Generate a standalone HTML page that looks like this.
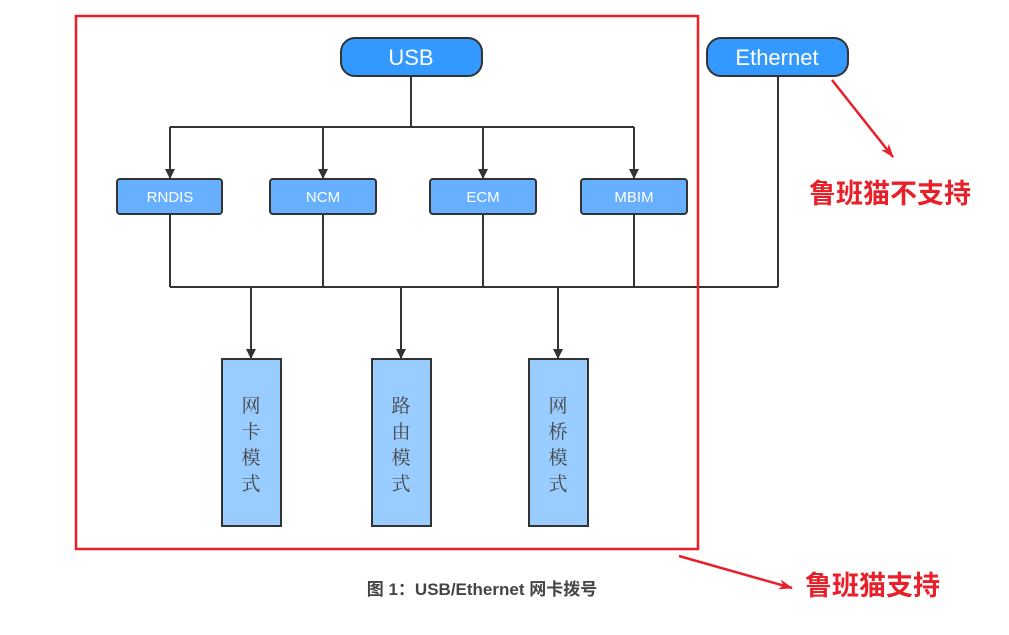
<!DOCTYPE html>
<html><head><meta charset="utf-8"><style>
html,body{margin:0;padding:0;background:#fff;width:1009px;height:635px;overflow:hidden}
svg{display:block}
</style></head><body>
<svg width="1009" height="635" viewBox="0 0 1009 635" xmlns="http://www.w3.org/2000/svg">
<defs>
<marker id="a" markerWidth="10" markerHeight="10" refX="9" refY="5" orient="auto" markerUnits="userSpaceOnUse"><path d="M0,0 L10,5 L0,10 z" fill="#333"/></marker>
<marker id="r" markerWidth="14" markerHeight="10" refX="13" refY="5" orient="auto" markerUnits="userSpaceOnUse"><path d="M0,0 L14,5 L0,10 L4,5 z" fill="#e8202a"/></marker>
</defs>
<g stroke="#333" stroke-width="2" fill="none">
<path d="M411,76 V127 M170,127 H634 M778,76 V287 M170,287 H778 M170,214 V287 M323,214 V287 M483,214 V287 M634,214 V287"/>
<path d="M170,127 V178" marker-end="url(#a)"/>
<path d="M323,127 V178" marker-end="url(#a)"/>
<path d="M483,127 V178" marker-end="url(#a)"/>
<path d="M634,127 V178" marker-end="url(#a)"/>
<path d="M251,287 V358" marker-end="url(#a)"/>
<path d="M401,287 V358" marker-end="url(#a)"/>
<path d="M558,287 V358" marker-end="url(#a)"/>
</g>
<g stroke="#333" stroke-width="2">
<rect x="341" y="38" width="141" height="38" rx="14" fill="#3399ff"/>
<rect x="707" y="38" width="141" height="38" rx="14" fill="#3399ff"/>
<rect x="117" y="179" width="105" height="35" rx="3" fill="#66b0ff"/>
<rect x="270" y="179" width="106" height="35" rx="3" fill="#66b0ff"/>
<rect x="430" y="179" width="106" height="35" rx="3" fill="#66b0ff"/>
<rect x="581" y="179" width="106" height="35" rx="3" fill="#66b0ff"/>
<rect x="222" y="359" width="59" height="167" fill="#99ccff"/>
<rect x="372" y="359" width="59" height="167" fill="#99ccff"/>
<rect x="529" y="359" width="59" height="167" fill="#99ccff"/>
</g>
<g font-family="Liberation Sans, sans-serif" fill="#fff" text-anchor="middle">
<text x="411" y="65" font-size="22">USB</text>
<text x="777" y="65" font-size="22">Ethernet</text>
<text x="170" y="202" font-size="15">RNDIS</text>
<text x="323" y="202" font-size="15">NCM</text>
<text x="483" y="202" font-size="15">ECM</text>
<text x="634" y="202" font-size="15">MBIM</text>
</g>
<g font-family="Liberation Serif, 'Noto Serif CJK SC', serif" fill="#444" font-size="19" text-anchor="middle">
<text x="251" y="412">网</text><text x="251" y="438">卡</text><text x="251" y="464">模</text><text x="251" y="490">式</text>
<text x="401" y="412">路</text><text x="401" y="438">由</text><text x="401" y="464">模</text><text x="401" y="490">式</text>
<text x="558" y="412">网</text><text x="558" y="438">桥</text><text x="558" y="464">模</text><text x="558" y="490">式</text>
</g>
<rect x="76" y="16" width="622" height="533" fill="none" stroke="#e8202a" stroke-width="2.5"/>
<path d="M832,80 L893,157" stroke="#e8202a" stroke-width="2.5" fill="none" marker-end="url(#r)"/>
<path d="M679,556 L792,588" stroke="#e8202a" stroke-width="2.5" fill="none" marker-end="url(#r)"/>
<g font-family="Liberation Sans, 'Noto Sans CJK SC', sans-serif" font-weight="bold" fill="#e8202a" font-size="27">
<text x="809" y="203">鲁班猫不支持</text>
<text x="805" y="595">鲁班猫支持</text>
</g>
<text x="482" y="595" text-anchor="middle" font-family="Liberation Sans, 'Noto Sans CJK SC', sans-serif" font-weight="bold" font-size="17" fill="#444">图 1：USB/Ethernet 网卡拨号</text>
</svg>
</body></html>
